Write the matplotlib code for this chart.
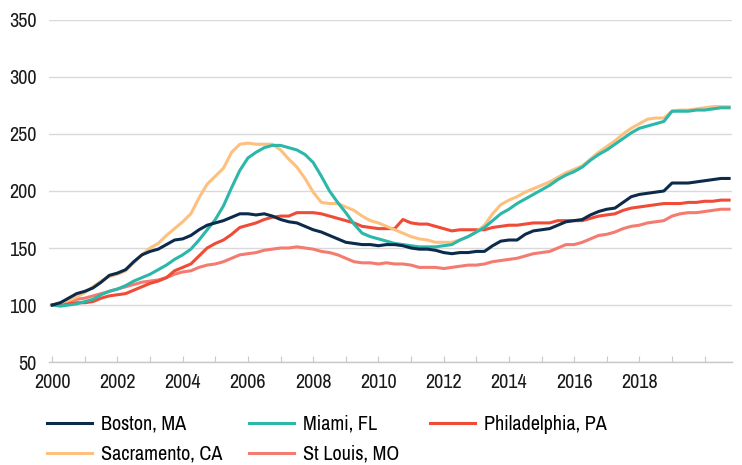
import numpy as np
import matplotlib
matplotlib.use("Agg")
import matplotlib.pyplot as plt
from matplotlib import font_manager

# quarterly index, 2000 Q1 = 100
quarters = np.arange(2000, 2020.76, 0.25)

boston = [100, 102, 106, 110, 112, 115, 120, 126, 128, 131, 138, 144,
          147, 149, 153, 157, 158, 161, 166, 170, 172, 174, 177, 180,
          180, 179, 180, 178, 175, 173, 172, 169, 166, 164, 161, 158,
          155, 154, 153, 153, 152, 153, 153, 152, 150, 149, 149, 148,
          146, 145, 146, 146, 147, 147, 152, 156, 157, 157, 162, 165,
          166, 167, 170, 173, 174, 175, 179, 182, 184, 185, 190, 195,
          197, 198, 199, 200, 207, 207, 207, 208, 209, 210, 211, 211]

miami = [100, 99, 100, 101, 103, 105, 109, 112, 114, 117, 121, 124,
         127, 131, 135, 140, 144, 149, 157, 166, 175, 187, 203, 218,
         229, 234, 238, 240, 240, 238, 236, 232, 225, 213, 200, 190,
         181, 171, 163, 160, 158, 156, 154, 153, 152, 151, 151, 151,
         152, 153, 157, 160, 164, 168, 174, 180, 184, 189, 193, 197,
         201, 205, 210, 214, 217, 221, 227, 232, 236, 241, 246, 251,
         255, 257, 259, 261, 270, 270, 270, 271, 271, 272, 273, 273]

philadelphia = [100, 100, 101, 102, 102, 103, 106, 108, 109, 110, 113, 116,
                119, 121, 124, 130, 133, 136, 143, 150, 154, 157, 162, 168,
                170, 172, 175, 177, 178, 178, 181, 181, 181, 180, 178, 176,
                174, 172, 169, 168, 167, 167, 167, 175, 172, 171, 171, 169,
                167, 165, 166, 166, 166, 166, 168, 169, 170, 170, 171, 172,
                172, 172, 174, 174, 174, 174, 176, 178, 179, 180, 183, 185,
                186, 187, 188, 189, 189, 189, 190, 190, 191, 191, 192, 192]

sacramento = [100, 102, 104, 107, 111, 116, 121, 125, 127, 130, 137, 144,
              150, 154, 161, 167, 173, 180, 194, 206, 213, 220, 234, 241,
              242, 241, 241, 241, 236, 228, 221, 211, 199, 190, 189, 189,
              186, 183, 178, 174, 172, 169, 166, 163, 160, 158, 157, 155,
              155, 155, 157, 160, 164, 170, 180, 188, 192, 195, 199, 202,
              205, 208, 212, 216, 219, 222, 228, 234, 239, 244, 250, 255,
              259, 263, 264, 264, 270, 271, 271, 272, 273, 274, 274, 274]

st_louis = [100, 101, 103, 105, 106, 108, 110, 112, 114, 116, 118, 120,
            121, 122, 124, 127, 129, 130, 133, 135, 136, 138, 141, 144,
            145, 146, 148, 149, 150, 150, 151, 150, 149, 147, 146, 144,
            141, 138, 137, 137, 136, 137, 136, 136, 135, 133, 133, 133,
            132, 133, 134, 135, 135, 136, 138, 139, 140, 141, 143, 145,
            146, 147, 150, 153, 153, 155, 158, 161, 162, 164, 167, 169,
            170, 172, 173, 174, 178, 180, 181, 181, 182, 183, 184, 184]

series = [
    ("Boston, MA", boston, "#0c2b4b"),
    ("Miami, FL", miami, "#2bb7a9"),
    ("Philadelphia, PA", philadelphia, "#ef4b36"),
    ("Sacramento, CA", sacramento, "#fdc07f"),
    ("St Louis, MO", st_louis, "#f47b70"),
]

# the reference uses a narrow sans; take one if the machine has it
installed = sorted({f.name for f in font_manager.fontManager.ttflist})
narrow = [n for n in installed if 'Narrow' in n or 'Condensed' in n]
if narrow:
    plt.rcParams['font.family'] = [narrow[0], 'DejaVu Sans']
    fsize = 14.5
else:
    plt.rcParams['font.family'] = ['Liberation Sans', 'DejaVu Sans']
    fsize = 12.5

fig = plt.figure(figsize=(7.42, 4.65), dpi=100)
ax = fig.add_axes([0.066, 0.2215, 0.921, 0.7355])

# draw order: back to front as in the reference
order = [4, 2, 3, 1, 0]
for z, i in enumerate(order):
    name, vals, col = series[i]
    ax.plot(quarters, vals, color=col, lw=2.2, label=name, zorder=3 + z)

ax.set_ylim(50, 350)
ax.set_xlim(1999.9, 2020.85)
ax.set_yticks(range(50, 351, 50))
ax.grid(axis='y', color='#d9d9d9', lw=1)
ax.set_axisbelow(True)

years = list(range(2000, 2021))
ax.set_xticks(years)
ax.set_xticklabels([str(y) if (y % 2 == 0 and y < 2020) else '' for y in years])

for s in ['top', 'right', 'left']:
    ax.spines[s].set_visible(False)
ax.spines['bottom'].set_color('#c8c8c8')
ax.spines['bottom'].set_linewidth(1)

ax.tick_params(axis='x', direction='in', length=4, color='#c8c8c8', pad=8,
               labelsize=fsize, labelcolor='#1a1a1a')
ax.tick_params(axis='y', length=0, pad=9, labelsize=fsize, labelcolor='#1a1a1a')

handles, labels = ax.get_legend_handles_labels()
lookup = dict(zip(labels, handles))

# one small legend per column so each column starts where the reference has it
legend_cols = [
    (0.064, ["Boston, MA", "Sacramento, CA"]),
    (0.336, ["Miami, FL", "St Louis, MO"]),
    (0.580, ["Philadelphia, PA"]),
]
for xpos, names in legend_cols:
    fig.legend([lookup[n] for n in names], names, ncol=1, frameon=False,
               loc='upper left', bbox_to_anchor=(xpos, 0.108),
               fontsize=fsize, handlelength=2.2, handletextpad=0.45,
               labelspacing=0.55, borderpad=0, borderaxespad=0)

fig.savefig("out.png", dpi=100)
